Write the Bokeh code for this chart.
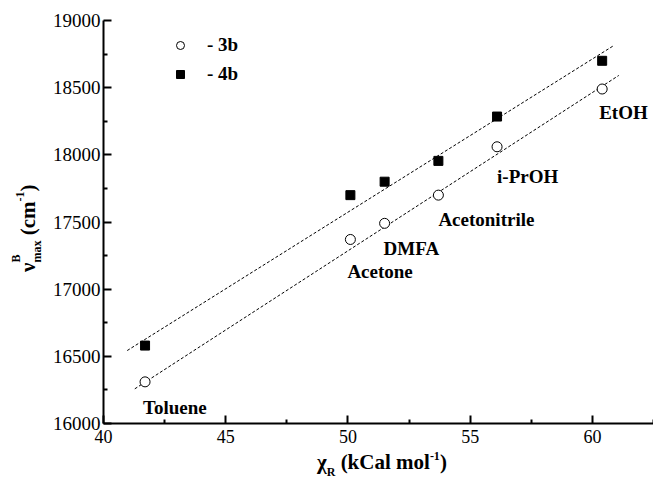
from bokeh.plotting import figure
from bokeh.models import (ColumnDataSource, FixedTicker, Legend, LegendItem,
                          Range1d, Div)
from bokeh.layouts import row, column
from bokeh.core.properties import value
from bokeh.embed import file_html
from bokeh.resources import INLINE

# ---------------- data ----------------
solvents = ["Toluene", "Acetone", "DMFA", "Acetonitrile", "i-PrOH", "EtOH"]
chi_r = [41.7, 50.1, 51.5, 53.7, 56.1, 60.4]
nu_3b = [16310, 17370, 17490, 17700, 18060, 18490]
nu_4b = [16580, 17700, 17800, 17955, 18285, 18700]

fit_3b_x = [41.28, 61.08]
fit_3b_y = [16258, 18591]
fit_4b_x = [40.97, 60.88]
fit_4b_y = [16543, 18814]

x_ticks = [40, 45, 50, 55, 60]
y_ticks = [16000, 16500, 17000, 17500, 18000, 18500, 19000]

# ---------------- layout / style ----------------
label_dx = [-2, -3, -1, 0, 0, -3]
label_dy = [26, 32, 25, 24, 30, 23]

YT_W = 45          # width of the y-title strip
FIG_W, FIG_H = 608, 450
XT_H = 36          # height of the x-title strip
X0, X1 = 40, 62.5
Y0, Y1 = 16000, 19000
FONT = "Liberation Serif"

p = figure(width=FIG_W, height=FIG_H, x_range=Range1d(X0, X1),
           y_range=Range1d(Y0, Y1), output_backend="svg",
           toolbar_location=None, min_border_left=58, min_border_right=0,
           min_border_top=20, min_border_bottom=27, margin=0)
p.outline_line_color = None
p.grid.visible = False
p.background_fill_color = "white"
p.border_fill_color = "white"

p.xaxis[0].ticker = FixedTicker(ticks=x_ticks,
                                minor_ticks=[t + 2.5 for t in x_ticks])
p.yaxis[0].ticker = FixedTicker(ticks=y_ticks,
                                minor_ticks=[t + 250 for t in y_ticks[:-1]])
for ax in (p.xaxis[0], p.yaxis[0]):
    ax.axis_line_width = 2
    ax.axis_line_color = "black"
    ax.major_tick_line_width = 2
    ax.minor_tick_line_width = 2
    ax.major_tick_line_color = "black"
    ax.minor_tick_line_color = "black"
    ax.major_tick_in = 8
    ax.major_tick_out = 0
    ax.minor_tick_in = 4
    ax.minor_tick_out = 0
    ax.major_label_text_font = FONT
    ax.major_label_text_font_size = "18px"
    ax.major_label_text_font_style = "normal"
    ax.major_label_text_color = "black"
p.yaxis[0].major_label_text_font_size = "19px"
p.xaxis[0].major_label_standoff = 6
p.yaxis[0].major_label_standoff = 3

# fit lines
p.line(fit_4b_x, fit_4b_y, line_color="black", line_width=1, line_dash="3 2")
p.line(fit_3b_x, fit_3b_y, line_color="black", line_width=1, line_dash="3 2")

src = ColumnDataSource(dict(x=chi_r, y3=nu_3b, y4=nu_4b, name=solvents,
                            ox=label_dx, oy=label_dy))
r4 = p.scatter("x", "y4", source=src, marker="square", size=9,
               fill_color="black", line_color="black")
r3 = p.scatter("x", "y3", source=src, marker="circle", size=10,
               fill_color="white", line_color="black", line_width=1)

p.text("x", "y3", text="name", source=src, x_offset="ox", y_offset="oy",
       text_font=value(FONT), text_font_style="bold", text_font_size="19px",
       text_align="left", text_baseline="alphabetic", text_color="black")

legend = Legend(items=[LegendItem(label="- 3b", renderers=[r3]),
                       LegendItem(label="- 4b", renderers=[r4])],
                location=(67, 338), padding=0, margin=0, spacing=7,
                glyph_width=20, glyph_height=20, label_height=20,
                label_standoff=17, border_line_color=None,
                background_fill_alpha=0, label_text_font=FONT,
                label_text_font_style="bold", label_text_font_size="19px",
                label_text_color="black")
p.add_layout(legend)

# ---------------- axis titles (HTML text) ----------------
base = ("font-family:'Liberation Serif',serif;font-weight:bold;"
        "font-size:21px;line-height:21px;white-space:nowrap;color:black;")
sub_r = "font-size:12px;position:relative;top:7px;"
sup_x = "font-size:12px;position:relative;top:-9px;"

x_title_html = (
    f'<div style="position:relative;width:653px;height:{XT_H}px;">'
    f'<div style="position:absolute;left:317px;top:2px;{base}">'
    f'\u03c7<span style="{sub_r}">R</span> (kCal mol'
    f'<span style="{sup_x}">-1</span>)</div></div>')

sup_b = "font-size:12px;position:relative;top:-15px;"
sub_m = "font-size:12px;position:relative;top:6px;margin-left:-8px;"
sup_y = "font-size:12px;position:relative;top:-11px;"
y_title_html = (
    f'<div style="position:relative;width:{YT_W}px;height:{FIG_H}px;">'
    f'<div style="position:absolute;left:18px;top:272px;'
    f'transform:rotate(-90deg);transform-origin:0 0;{base}">'
    f'\u03bd<span style="{sup_b}">B</span><span style="{sub_m}">max</span>'
    f' (cm<span style="{sup_y}">-1</span>)</div></div>')

x_title = Div(text=x_title_html, width=FIG_W + YT_W, height=XT_H, margin=0,
              styles={"overflow": "visible"})
y_title = Div(text=y_title_html, width=YT_W, height=FIG_H, margin=0,
              styles={"overflow": "visible"})

layout = column(row(y_title, p, spacing=0, margin=0), x_title,
                spacing=0, margin=0)

open("out.html", "w").write(file_html(layout, INLINE))
